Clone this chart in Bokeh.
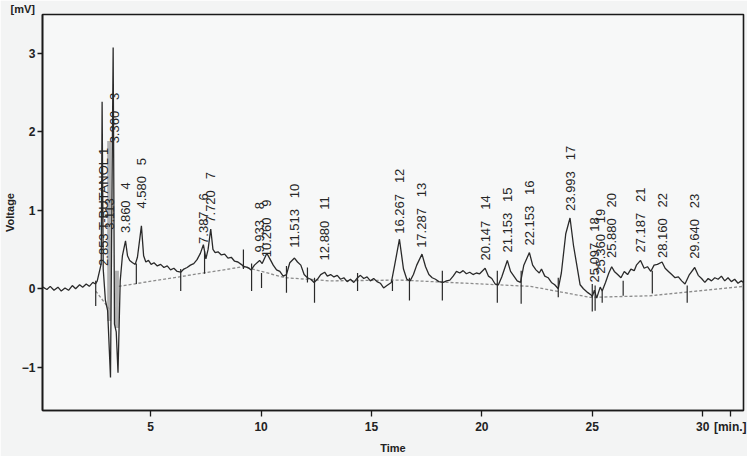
import numpy as np
from bokeh.plotting import figure
from bokeh.models import Range1d, FixedTicker
from bokeh.core.properties import value
from bokeh.embed import file_html
from bokeh.resources import INLINE

# ---- detector trace (time [min], voltage [mV]) ----
trace_t = [0.12, 0.30, 0.45, 0.62, 0.80, 0.95, 1.12, 1.28, 1.45, 1.60, 1.78, 1.92, 2.08, 2.22, 2.38, 2.50,
           2.58, 2.68, 2.76, 2.80, 2.85, 2.95, 3.05, 3.18, 3.30, 3.36, 3.44, 3.52, 3.62, 3.72, 3.86, 3.95,
           4.05, 4.18, 4.30, 4.40, 4.58, 4.68, 4.78, 4.90, 5.02, 5.15, 5.30, 5.45, 5.60, 5.75, 5.90, 6.05,
           6.20, 6.36, 6.50, 6.65, 6.80, 6.95, 7.10, 7.25, 7.387, 7.50, 7.60, 7.72, 7.82, 7.92, 8.05, 8.20,
           8.35, 8.50, 8.65, 8.80, 8.95, 9.10, 9.25, 9.40, 9.55, 9.70, 9.933, 10.05, 10.26, 10.40, 10.55,
           10.70, 10.85, 11.00, 11.15, 11.30, 11.513, 11.65, 11.80, 11.95, 12.10, 12.25, 12.40, 12.55,
           12.70, 12.88, 13.00, 13.15, 13.30, 13.45, 13.60, 13.75, 13.90, 14.05, 14.20, 14.37, 14.50,
           14.65, 14.80, 14.95, 15.10, 15.25, 15.40, 15.55, 15.70, 15.90, 16.05, 16.267, 16.45, 16.60,
           16.75, 16.90, 17.05, 17.287, 17.45, 17.60, 17.75, 17.90, 18.05, 18.25, 18.40, 18.55, 18.70,
           18.85, 19.00, 19.15, 19.30, 19.45, 19.60, 19.75, 19.90, 20.147, 20.30, 20.45, 20.60, 20.75,
           20.90, 21.153, 21.30, 21.45, 21.60, 21.75, 21.90, 22.153, 22.30, 22.45, 22.60, 22.70, 22.85,
           23.00, 23.15, 23.30, 23.46, 23.60, 23.80, 23.993, 24.15, 24.30, 24.45, 24.60, 24.80, 24.95,
           25.00, 25.097, 25.20, 25.36, 25.45, 25.60, 25.75, 25.88, 26.00, 26.15, 26.30, 26.45, 26.60,
           26.75, 26.90, 27.00, 27.187, 27.35, 27.50, 27.65, 27.80, 27.95, 28.16, 28.30, 28.45, 28.60,
           28.75, 28.90, 29.05, 29.20, 29.40, 29.64, 29.80, 29.95, 30.10, 30.25, 30.40, 30.55, 30.70,
           30.85, 31.00, 31.15, 31.30, 31.45, 31.60, 31.75, 31.85]
trace_v = [0.02, -0.01, 0.03, -0.02, 0.02, -0.03, 0.01, -0.02, 0.04, 0.00, 0.05, 0.02, 0.06, 0.03, 0.08, 0.06,
           0.10, 0.22, 0.32, 2.38, 0.25, -0.15, -0.28, -1.13, 3.07, -0.45, -0.55, -1.07, 0.10, 0.42, 0.61, 0.42,
           0.36, 0.33, 0.31, 0.40, 0.80, 0.42, 0.34, 0.36, 0.31, 0.33, 0.29, 0.31, 0.27, 0.29, 0.24, 0.26,
           0.22, 0.21, 0.25, 0.27, 0.30, 0.32, 0.37, 0.45, 0.56, 0.38, 0.50, 0.76, 0.50, 0.46, 0.47, 0.43,
           0.44, 0.39, 0.40, 0.35, 0.34, 0.31, 0.28, 0.27, 0.24, 0.30, 0.36, 0.32, 0.45, 0.38, 0.30,
           0.24, 0.22, 0.16, 0.18, 0.33, 0.39, 0.34, 0.30, 0.18, 0.14, 0.12, 0.08, 0.12,
           0.18, 0.21, 0.16, 0.18, 0.15, 0.17, 0.12, 0.14, 0.09, 0.12, 0.08, 0.14, 0.17,
           0.13, 0.15, 0.10, 0.13, 0.09, 0.07, 0.01, 0.04, 0.08, 0.30, 0.63, 0.25, 0.12,
           0.10, 0.18, 0.30, 0.44, 0.28, 0.18, 0.14, 0.12, 0.09, 0.08, 0.10, 0.11, 0.16,
           0.22, 0.20, 0.23, 0.19, 0.21, 0.18, 0.20, 0.19, 0.26, 0.16, 0.13, 0.06, 0.05,
           0.15, 0.36, 0.22, 0.16, 0.10, 0.08, 0.30, 0.46, 0.30, 0.24, 0.20, 0.25, 0.16,
           0.14, 0.08, 0.05, 0.00, 0.20, 0.70, 0.90, 0.55, 0.30, 0.05, 0.00, -0.05, -0.08,
           -0.10, -0.02, -0.12, 0.02, -0.03, 0.08, 0.20, 0.28, 0.22, 0.18, 0.14, 0.22, 0.18,
           0.25, 0.23, 0.30, 0.36, 0.26, 0.28, 0.22, 0.30, 0.31, 0.34, 0.26, 0.22, 0.18,
           0.14, 0.15, 0.10, 0.06, 0.18, 0.27, 0.17, 0.13, 0.08, 0.13, 0.10, 0.14, 0.12,
           0.16, 0.10, 0.14, 0.09, 0.12, 0.07, 0.10, 0.08]

# ---- integrated peaks ----
peak_rt = [2.853, 3.113, 3.360, 3.860, 4.580, 7.387, 7.720, 9.933, 10.260, 11.513, 12.880, 16.267,
           17.287, 20.147, 21.153, 22.153, 23.993, 25.097, 25.360, 25.880, 27.187, 28.160, 29.640]
peak_no = [1, None, 3, 4, 5, 6, 7, 8, 9, 10, 11, 12, 13, 14, 15, 16, 17, 18, 19, 20, 21, 22, 23]
peak_name = ["T-BUTANOL"] + [""] * 22
label_base = [0.29, 0.75, 1.85, 0.71, 1.02, 0.57, 0.84, 0.46, 0.40, 0.52, 0.36, 0.70,
              0.52, 0.36, 0.46, 0.55, 0.99, 0.08, 0.19, 0.39, 0.46, 0.39, 0.38]

# ---- peak boundary marks (time, top, bottom) ----
drop_t = [2.51, 4.35, 6.36, 7.44, 9.20, 9.57, 10.02, 11.15, 12.10, 12.42, 14.37, 15.95, 16.72,
          18.21, 20.70, 21.78, 23.46, 25.00, 25.13, 25.45, 26.40, 27.72, 29.30, 31.85]
drop_top = [0.10, 0.32, 0.25, 0.48, 0.50, 0.32, 0.20, 0.29, 0.27, 0.14, 0.20, 0.10, 0.14,
            0.23, 0.23, 0.23, 0.14, 0.06, 0.04, -0.03, 0.10, 0.23, 0.04, 0.08]
drop_bot = [-0.22, 0.06, -0.03, 0.19, 0.25, -0.03, 0.01, -0.05, 0.08, -0.18, -0.03, -0.03, -0.15,
            -0.15, -0.18, -0.19, -0.11, -0.29, -0.28, -0.18, -0.09, -0.06, -0.18, -0.15]

# ---- integration baselines ----
base1_t = [2.51, 3.19]
base1_v = [-0.03, -0.28]
base2_t = [3.55, 9.20, 11.10, 13.10, 16.30, 22.20, 24.90, 27.60, 31.85]
base2_v = [0.03, 0.28, 0.14, 0.10, 0.11, 0.03, -0.11, -0.09, 0.03]

# ---- smeared (overdrawn) parts of the trace near the solvent spikes ----
smear_t = [3.12, 3.47]
smear_top = [1.88, 0.23]
smear_bot = [-0.41, -0.50]

# ---- axes: ticks and unit labels ----
x_ticks = [5, 10, 15, 20, 25, 30]
y_ticks = [-1, 0, 1, 2, 3]
x_unit, x_unit_at = "[min.]", 31.25
y_unit = "[mV]"

FONT = "Liberation Sans"
NB = "\u00a0"

p = figure(frame_width=701, frame_height=396, x_range=Range1d(0.1, 31.85), y_range=Range1d(-1.55, 3.49),
           output_backend="svg", toolbar_location=None, title=y_unit,
           min_border_left=34, min_border_right=4, min_border_top=13, min_border_bottom=43)
p.background_fill_color = "#f7f8f8"
p.border_fill_color = "#f3f4f4"
p.outline_line_color = "#1a1a1a"
p.outline_line_width = 1.6
p.xgrid.visible = False
p.ygrid.visible = False

p.title.align = "left"
p.title.offset = -32
p.title.standoff = 0
p.title.text_font = FONT
p.title.text_font_size = "11px"
p.title.text_font_style = "bold"
p.title.text_color = "#222222"

for ax in (p.xaxis[0], p.yaxis[0]):
    ax.axis_line_color = "#1a1a1a"
    ax.axis_line_width = 1.6
    ax.major_tick_line_color = "#1a1a1a"
    ax.major_tick_line_width = 1.3
    ax.major_tick_in = 0
    ax.minor_tick_line_color = None
    ax.major_label_text_font = FONT
    ax.major_label_text_font_style = "bold"
    ax.major_label_text_font_size = "12px"
    ax.major_label_text_color = "#222222"
    ax.axis_label_text_font = FONT
    ax.axis_label_text_font_style = "bold"
    ax.axis_label_text_font_size = "11px"
    ax.axis_label_text_color = "#222222"

p.xaxis.ticker = FixedTicker(ticks=x_ticks + [x_unit_at])
p.xaxis.major_label_overrides = {x_unit_at: x_unit}
p.yaxis.ticker = FixedTicker(ticks=y_ticks)
p.xaxis.major_tick_out = 6
p.xaxis.major_label_standoff = 3
p.xaxis.axis_label = "Time"
p.xaxis.axis_label_standoff = 5
p.yaxis.major_tick_out = 5
p.yaxis.major_label_standoff = 2
p.yaxis.axis_label = "Voltage"
p.yaxis.axis_label_standoff = 3

# baselines
p.line(base1_t, base1_v, line_color="#8c8c8c", line_width=1.3, line_dash="3 2")
p.line(base2_t, base2_v, line_color="#8c8c8c", line_width=1.3, line_dash="3 2")
# smear
p.segment(x0=smear_t, y0=smear_top, x1=smear_t, y1=smear_bot, line_color="#a0a0a0",
          line_width=4, line_alpha=0.8)
# trace
p.line(trace_t, trace_v, line_color="#2a2a2a", line_width=1.3)
# boundary marks
p.segment(x0=drop_t, y0=drop_top, x1=drop_t, y1=drop_bot, line_color="#2a2a2a", line_width=1.2)

# peak labels
texts = []
for rt, no, name in zip(peak_rt, peak_no, peak_name):
    if no is None:
        texts.append(f"{rt:.3f}")
    elif name:
        texts.append(f"{rt:.3f} {name} {no}")
    else:
        texts.append(f"{rt:.3f}{NB}{NB}{NB}{no}")
p.text(x=peak_rt, y=label_base, text=texts, angle=np.pi / 2, text_align="left",
       text_baseline="middle", text_font=value(FONT), text_font_size="13px", text_color="#262626")

open("out.html", "w").write(file_html(p, INLINE))
